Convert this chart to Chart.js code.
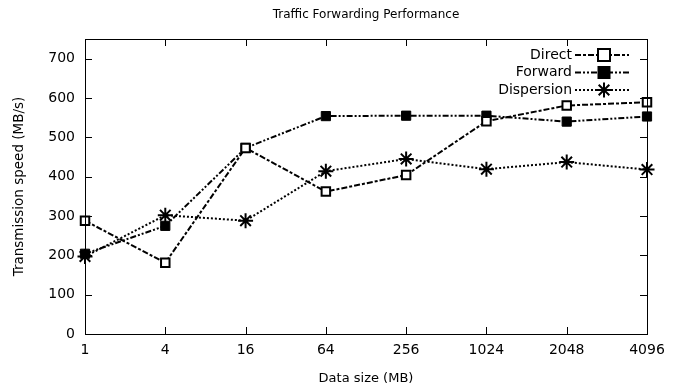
<!DOCTYPE html>
<html>
<head>
<meta charset="utf-8">
<script src="https://cdn.jsdelivr.net/npm/chart.js@4/dist/chart.umd.min.js"></script>
<style>
  html, body { margin: 0; padding: 0; background: #fff; }
  #wrap { width: 679px; height: 390px; }
</style>
</head>
<body>
<div id="wrap"><canvas id="chart"></canvas></div>
<script>
const sizes = ["1", "4", "16", "64", "256", "1024", "2048", "4096"];
const direct = [288, 181, 473, 362, 404, 541, 581, 589];
const forward = [204, 275, 473, 554, 555, 555, 540, 553];
const dispersion = [197, 302, 288, 414, 445, 419, 437, 418];

const FONT = "'DejaVu Sans', sans-serif";

// gnuplot-like frame with inward ticks, title and legend
const framePlugin = {
  id: "frame",
  afterDraw(chart) {
    const ctx = chart.ctx;
    const a = chart.chartArea;
    const xs = chart.scales.x, ys = chart.scales.y;
    ctx.save();
    ctx.strokeStyle = "#000";
    ctx.lineWidth = 1;
    ctx.setLineDash([]);
    ctx.strokeRect(Math.round(a.left) + 0.5, Math.round(a.top) + 0.5,
      Math.round(a.right - a.left), Math.round(a.bottom - a.top));
    const tl = 7;
    ctx.beginPath();
    xs.ticks.forEach((t, i) => {
      const x = Math.round(xs.getPixelForTick(i)) + 0.5;
      ctx.moveTo(x, a.bottom); ctx.lineTo(x, a.bottom - tl);
      ctx.moveTo(x, a.top); ctx.lineTo(x, a.top + tl);
    });
    ys.ticks.forEach((t, i) => {
      const y = Math.round(ys.getPixelForTick(i)) + 0.5;
      ctx.moveTo(a.left, y); ctx.lineTo(a.left + tl, y);
      ctx.moveTo(a.right, y); ctx.lineTo(a.right - tl, y);
    });
    ctx.stroke();

    // title
    ctx.fillStyle = "#000";
    ctx.font = "12px " + FONT;
    ctx.textAlign = "center";
    ctx.textBaseline = "middle";
    ctx.fillText("Traffic Forwarding Performance", (a.left + a.right) / 2, 15);

    // legend
    ctx.font = "14px " + FONT;
    ctx.textAlign = "right";
    chart.data.datasets.forEach((ds, i) => {
      const y = 55 + i * 17.5;
      const tx = 572;
      ctx.fillStyle = "#000";
      ctx.fillText(ds.label, tx, y);
      ctx.beginPath();
      ctx.setLineDash(ds.borderDash);
      ctx.lineWidth = ds.borderWidth;
      ctx.moveTo(tx + 3, y); ctx.lineTo(tx + 57, y);
      ctx.stroke();
      ctx.setLineDash([]);
      drawMarker(ctx, ds, tx + 32, y);
    });
    ctx.restore();
  }
};

function drawMarker(ctx, ds, x, y) {
  const r = ds.pointRadius;
  ctx.save();
  ctx.lineWidth = ds.pointBorderWidth;
  ctx.strokeStyle = "#000";
  if (ds.pointStyle === "rect") {
    if (ds.pointBackgroundColor === "#000") {
      ctx.fillStyle = "#000";
      ctx.fillRect(x - r, y - r, 2 * r, 2 * r);
    } else {
      ctx.fillStyle = "#fff";
      ctx.fillRect(x - r, y - r, 2 * r, 2 * r);
      ctx.strokeRect(x - r, y - r, 2 * r, 2 * r);
    }
  } else {
    ctx.beginPath();
    for (let k = 0; k < 4; k++) {
      const ang = k * Math.PI / 4;
      const dx = Math.cos(ang) * r, dy = Math.sin(ang) * r;
      ctx.moveTo(x - dx, y - dy); ctx.lineTo(x + dx, y + dy);
    }
    ctx.stroke();
  }
  ctx.restore();
}

new Chart(document.getElementById("chart"), {
  type: "line",
  data: {
    labels: sizes,
    datasets: [
      {
        label: "Direct",
        data: direct,
        borderColor: "#000",
        borderWidth: 2,
        borderDash: [6, 2, 3, 2],
        pointStyle: "rect",
        pointRadius: 6,
        pointBorderWidth: 2,
        pointBackgroundColor: "#fff",
        pointBorderColor: "#000",
        tension: 0
      },
      {
        label: "Forward",
        data: forward,
        borderColor: "#000",
        borderWidth: 2,
        borderDash: [6, 2, 2, 2, 2, 2],
        pointStyle: "rect",
        pointRadius: 6.5,
        pointBorderWidth: 1,
        pointBackgroundColor: "#000",
        pointBorderColor: "#000",
        tension: 0
      },
      {
        label: "Dispersion",
        data: dispersion,
        borderColor: "#000",
        borderWidth: 2,
        borderDash: [2, 2],
        pointStyle: "star",
        pointRadius: 7.5,
        pointBorderWidth: 2,
        pointBackgroundColor: "#000",
        pointBorderColor: "#000",
        tension: 0
      }
    ]
  },
  options: {
    responsive: true,
    maintainAspectRatio: false,
    animation: false,
    layout: { padding: { top: 39, right: 32, left: 0, bottom: 0 } },
    plugins: {
      legend: { display: false },
      title: { display: false },
      tooltip: { enabled: false }
    },
    scales: {
      x: {
        type: "category",
        offset: false,
        grid: { display: false, drawTicks: false },
        border: { display: false },
        ticks: { color: "#000", font: { family: FONT, size: 14 }, padding: 8, maxRotation: 0, autoSkip: false },
        title: { display: true, text: "Data size (MB)", color: "#000", font: { family: FONT, size: 13 }, padding: { top: 4 } },
        afterFit(scale) { scale.height = 56; }
      },
      y: {
        min: 0,
        max: 750,
        grid: { display: false, drawTicks: false },
        border: { display: false },
        ticks: { stepSize: 100, includeBounds: false, color: "#000", font: { family: FONT, size: 14 }, padding: 10 },
        title: { display: true, text: "Transmission speed (MB/s)", color: "#000", font: { family: FONT, size: 13.5 }, padding: { top: 11, bottom: 0 } },
        afterFit(scale) { scale.width = 85; }
      }
    }
  },
  plugins: [framePlugin]
});
</script>
</body>
</html>
